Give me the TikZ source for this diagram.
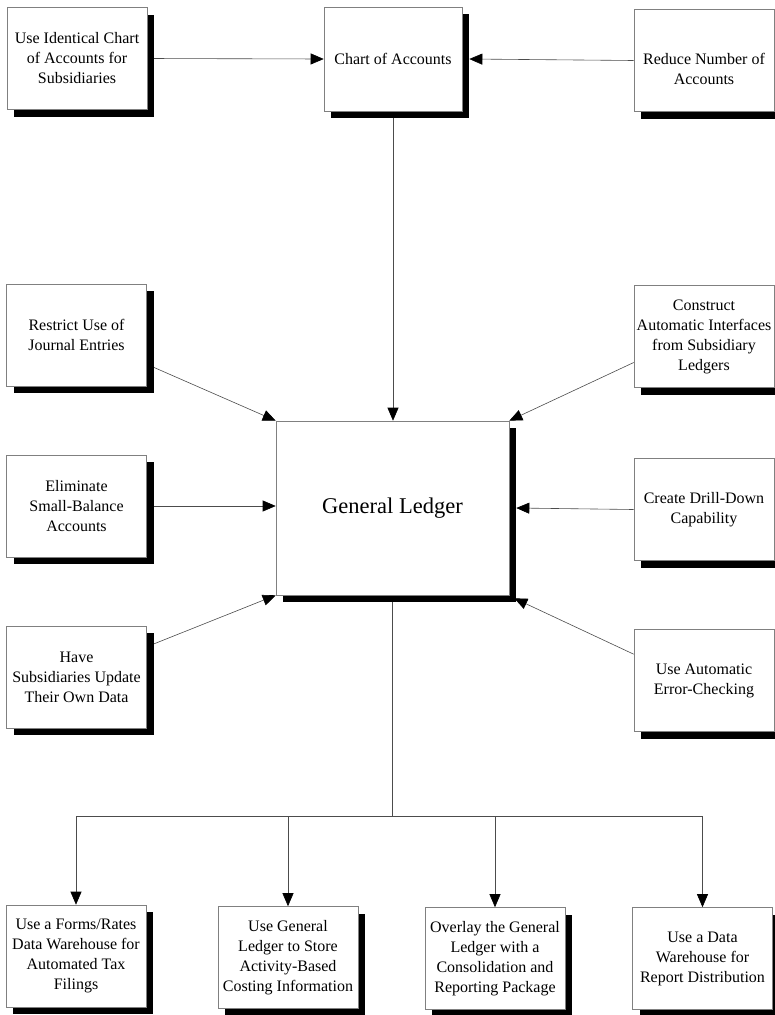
\documentclass[tikz,border=0pt]{standalone}
\usepackage{fontspec}
\setmainfont{Liberation Serif}
\usetikzlibrary{
  arrows.meta,
  positioning,
  shadows,
  backgrounds
}

\begin{document}
\begin{tikzpicture}[
    x=1pt, y=-1pt,
    box/.style={
      rectangle, draw=black!50, line width=0.6pt, fill=white,
      minimum width=140pt, minimum height=102pt, inner sep=2pt,
      align=center, font=\fontsize{16}{20}\selectfont,
      general shadow={fill=black, shadow xshift=7pt, shadow yshift=-7pt}
    },
    link/.style={draw=black!70, line width=0.6pt},
    >={Triangle[length=13pt,width=11pt,color=black]}
  ]
  \useasboundingbox (0,0) rectangle (774,1015);

  %% ===== top row =====
  \node[box] (idchart) at (77,58.5) {Use Identical Chart\\of Accounts for\\Subsidiaries};
  \node[box, minimum width=138pt, minimum height=104pt] (chart) at (393,59) {Chart of Accounts};
  \node[box] (reduce) at (704,60.5)
    {\raisebox{-10pt}[\height][\depth]{\begin{tabular}{@{}c@{}}Reduce Number of\\Accounts\end{tabular}}};

  %% ===== general ledger =====
  \node[box, minimum width=233pt, minimum height=174pt,
        font=\fontsize{22.5}{27}\selectfont] (gl) at (392.5,508) {General Ledger};

  %% ===== left column =====
  \node[box] (restrict) at (76.5,335) {Restrict Use of\\Journal Entries};
  \node[box] (elim)     at (76.5,506) {Eliminate\\Small-Balance\\Accounts};
  \node[box] (have)     at (76.5,677) {Have\\Subsidiaries Update\\Their Own Data};

  %% ===== right column =====
  \node[box] (construct) at (704,336.5) {Construct\\Automatic Interfaces\\from Subsidiary\\Ledgers};
  \node[box] (drill)     at (704,509.5) {Create Drill-Down\\Capability};
  \node[box] (errchk)    at (704,680.5) {Use Automatic\\Error-Checking};

  %% ===== bottom row =====
  \node[box] (forms)   at (76,956)    {Use a Forms/Rates\\Data Warehouse for\\Automated Tax\\Filings};
  \node[box] (store)   at (288,957.5) {Use General\\Ledger to Store\\Activity-Based\\Costing Information};
  \node[box] (overlay) at (495,958.5) {Overlay the General\\Ledger with a\\Consolidation and\\Reporting Package};
  \node[box] (dataw)   at (702.5,958.5) {Use a Data\\Warehouse for\\Report Distribution};

  \coordinate (split) at (392.5,816);

  %% ===== connectors (behind the shadows) =====
  \begin{scope}[on background layer]
    \draw[link, ->] (idchart.east) -- (chart.west);
    \draw[link, ->] (reduce.west) -- ([xshift=7pt]chart.east);
    \draw[link, ->] (chart.south) -- (chart.south |- gl.north);

    \draw[link, ->] ([yshift=22pt]restrict.south east) -- (gl.north west);
    \draw[link, ->] (elim.east) -- (elim.east -| gl.west);
    \draw[link, ->] ([yshift=-21pt]have.north east) -- (gl.south west);

    \draw[link, ->] ([yshift=-26pt]construct.west) -- (gl.north east);
    \draw[link, ->] (drill.west) -- ([xshift=7pt]gl.east);
    \draw[link, ->] ([yshift=-25pt]errchk.north west) -- ([xshift=5pt,yshift=-3pt]gl.south east);

    \draw[link] (gl.south) -- (split);
    \draw[link] (forms.north |- split) -- (dataw.north |- split);
    \foreach \b in {forms,store,overlay,dataw}
      \draw[link, ->] (\b.north |- split) -- (\b.north);
  \end{scope}
\end{tikzpicture}
\end{document}
